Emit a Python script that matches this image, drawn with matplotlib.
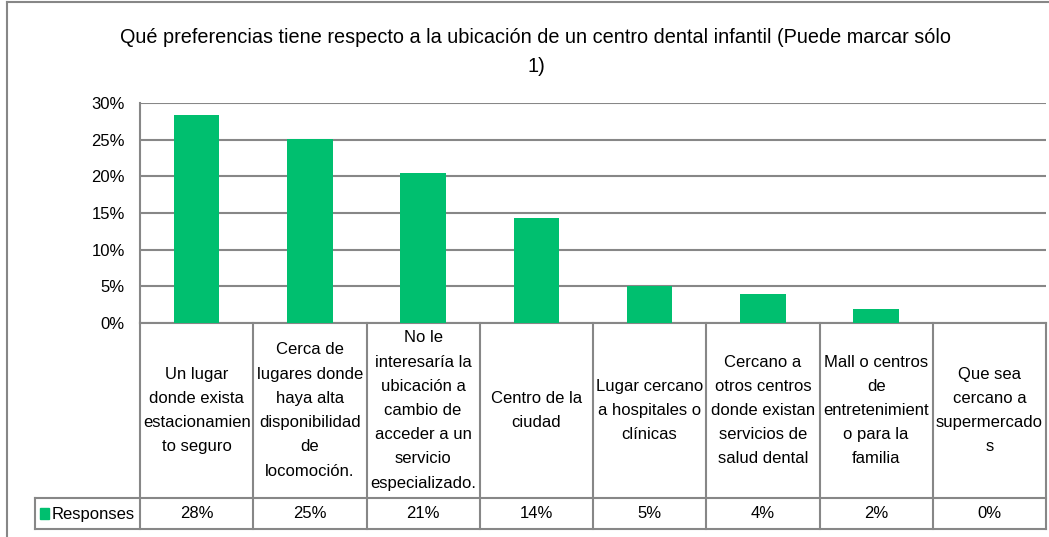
import matplotlib
matplotlib.use("Agg")
import matplotlib.pyplot as plt
from matplotlib.transforms import blended_transform_factory
from matplotlib.lines import Line2D
from matplotlib.patches import Rectangle

plt.rcParams['font.family'] = ['Liberation Sans', 'DejaVu Sans']

# datos de la encuesta
categorias = [
    "Un lugar\ndonde exista\nestacionamien\nto seguro",
    "Cerca de\nlugares donde\nhaya alta\ndisponibilidad\nde\nlocomoción.",
    "No le\ninteresaría la\nubicación a\ncambio de\nacceder a un\nservicio\nespecializado.",
    "Centro de la\nciudad",
    "Lugar cercano\na hospitales o\nclínicas",
    "Cercano a\notros centros\ndonde existan\nservicios de\nsalud dental",
    "Mall o centros\nde\nentretenimient\no para la\nfamilia",
    "Que sea\ncercano a\nsupermercado\ns",
]
respuestas = [28.4, 25.1, 20.5, 14.3, 5.0, 4.0, 1.9, 0.0]
etiquetas = ["28%", "25%", "21%", "14%", "5%", "4%", "2%", "0%"]
serie = "Responses"
titulo = ("Qué preferencias tiene respecto a la ubicación de un centro dental infantil (Puede marcar sólo\n1)")

verde = "#00BF6F"
gris = "#878787"

W, H = 1049, 537
fig = plt.figure(figsize=(W / 100, H / 100), dpi=100)

def fy(py):
    return 1 - py / H

# marco exterior del gráfico (izquierda y arriba)
fig.add_artist(Line2D([7 / W, 7 / W], [fy(2), 0], color=gris, lw=1.5))
fig.add_artist(Line2D([7 / W, 1], [fy(2), fy(2)], color=gris, lw=1.5))

fig.text(536 / W, fy(52), titulo, ha="center", va="center", fontsize=14.3,
         linespacing=1.68)

x0, x1, ytop, ybot = 140, 1046, 103, 323
ax = fig.add_axes([x0 / W, fy(ybot), (x1 - x0) / W, (ybot - ytop) / H])
n = len(respuestas)
ax.bar(range(n), respuestas, width=0.4, color=verde, zorder=3)
ax.set_xlim(-0.5, n - 0.5)
ax.set_ylim(0, 30)
ax.set_yticks(range(0, 31, 5))
ax.set_yticklabels([f"{v}%" for v in range(0, 31, 5)])
ax.tick_params(axis="y", length=0, pad=11, labelsize=12)
ax.set_xticks([])
ax.grid(axis="y", color=gris, lw=1.5, zorder=0)
for s in ["top", "right", "bottom"]:
    ax.spines[s].set_visible(False)
ax.spines["left"].set_color(gris)
ax.spines["left"].set_linewidth(1.5)

# tabla de datos bajo el eje
tr = blended_transform_factory(ax.transData, ax.transAxes)
ph = ybot - ytop

def ay(py):
    return (ybot - py) / ph

y_fila = 498
y_fin = 529
x_leyenda = -0.5 - (140 - 35) / ((x1 - x0) / n)

lineas = dict(color=gris, lw=1.5, transform=tr, clip_on=False)
ax.plot([-0.5, n - 0.5], [0, 0], **lineas)
ax.plot([x_leyenda, n - 0.5], [ay(y_fila), ay(y_fila)], **lineas)
ax.plot([x_leyenda, n - 0.5], [ay(y_fin), ay(y_fin)], **lineas)
ax.plot([x_leyenda, x_leyenda], [ay(y_fila), ay(y_fin)], **lineas)
for i in range(n + 1):
    ax.plot([i - 0.5, i - 0.5], [0, ay(y_fin)], **lineas)

for i, (c, e) in enumerate(zip(categorias, etiquetas)):
    ax.text(i, ay((ybot + y_fila) / 2), c, ha="center", va="center",
            fontsize=12, linespacing=1.77, transform=tr, clip_on=False)
    ax.text(i, ay((y_fila + y_fin) / 2), e, ha="center", va="center",
            fontsize=12, transform=tr, clip_on=False)

# clave de la serie
fig.add_artist(Rectangle((40 / W, fy(519)), 9 / W, 11 / H, color=verde))
fig.text(52 / W, fy(514), serie, ha="left", va="center", fontsize=12)

fig.savefig("out.png", dpi=100)
